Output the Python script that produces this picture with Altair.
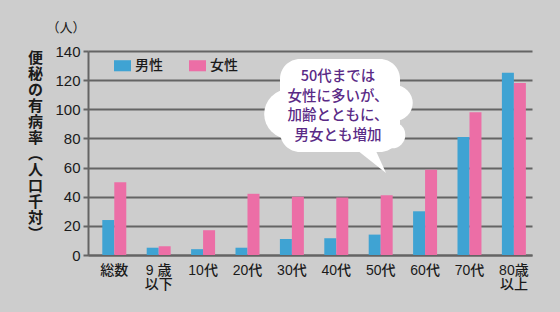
import altair as alt
import pandas as pd

categories = ["総数", "9 歳\n以下", "10代", "20代", "30代", "40代", "50代", "60代", "70代", "80歳\n以上"]
series = ["男性", "女性"]
male = [24, 5, 4, 5, 11, 11.5, 14, 30, 81, 125]
female = [50, 6, 17, 42, 40, 39.5, 41, 58.5, 98, 118]
y_ticks = [0, 20, 40, 60, 80, 100, 120, 140]
y_title = list("便秘の有病率") + ["︵", "人", "口", "千", "対", "︶"]
unit_label = "（人）"
callout = "50代までは\n女性に多いが、\n加齢とともに、\n男女とも増加"

rows = []
for c, m, f in zip(categories, male, female):
    rows.append({"cat": c, "series": "男性", "value": m})
    rows.append({"cat": c, "series": "女性", "value": f})
df = pd.DataFrame(rows)

FONT = "Liberation Sans, Noto Sans CJK JP"
BLUE = "#3fa3d3"
PINK = "#ec6ea6"
GRID = "#646464"

bars = alt.Chart(df).mark_bar().encode(
    x=alt.X("cat:N", sort=categories,
            scale=alt.Scale(paddingInner=0.46, paddingOuter=0.23, align=0.7),
            axis=alt.Axis(title=None, labelAngle=0, ticks=False, labelPadding=8,
                          labelExpr="split(datum.label, '\\n')",
                          labelFontSize=14, labelLineHeight=14, labelColor="#1a1a1a",
                          labelFont=FONT, labelFontWeight=500,
                          domainColor=GRID, domainWidth=2, grid=False)),
    xOffset=alt.XOffset("series:N", sort=series, scale=alt.Scale(domain=series)),
    y=alt.Y("value:Q", scale=alt.Scale(domain=[0, 140], nice=False),
            axis=alt.Axis(values=y_ticks, title=y_title, titleAngle=0,
                          titleFontSize=15, titleFontWeight="bold", titleLineHeight=16,
                          titleFont="Noto Sans CJK JP", titleColor="#1a1a1a",
                          titleX=-53, titleY=6, titleBaseline="middle", titleAlign="center",
                          labelFontSize=15, labelColor="#1a1a1a", labelFont=FONT,
                          labelPadding=3, tickSize=5, tickColor=GRID, tickWidth=2,
                          domainColor=GRID, domainWidth=2,
                          grid=True, gridColor=GRID, gridWidth=2)),
    color=alt.Color("series:N", sort=series,
                    scale=alt.Scale(domain=series, range=[BLUE, PINK]),
                    legend=alt.Legend(title=None, orient="none", legendX=26, legendY=6,
                                      direction="horizontal", padding=0,
                                      symbolType="M-1,-0.65L1,-0.65L1,0.65L-1,0.65Z",
                                      symbolSize=289, symbolStrokeWidth=0, symbolOpacity=1,
                                      labelFontSize=14, labelFont="Noto Sans CJK JP",
                                      labelFontWeight=500,
                                      labelColor="#1a1a1a", labelOffset=4, columnPadding=26)),
)

anchor = pd.DataFrame({"a": [0]})

bubble_rect = alt.Chart(anchor).mark_rect(fill="white", cornerRadius=20).encode(
    x=alt.value(192), x2=alt.value(312), y=alt.value(8), y2=alt.value(101))
bubble_circles = alt.Chart(pd.DataFrame({"cx": [201, 307, 304], "cy": [63, 52, 84],
                                         "s": [2463, 1257, 707]})).mark_circle(
    fill="white", opacity=1).encode(
    x=alt.X("cx:Q", scale=None), y=alt.Y("cy:Q", scale=None),
    size=alt.Size("s:Q", scale=None))
tail = alt.Chart(anchor).mark_point(
    shape="M-1,-0.95L0.28,-0.95L1,0.64Z", filled=True, fill="white", opacity=1,
    size=1296).encode(x=alt.value(280), y=alt.value(110.5))
bubble_text = alt.Chart(anchor).mark_text(
    text=callout, lineBreak="\n", lineHeight=19.7, fontSize=14.5,
    font="Noto Sans CJK JP", color="#5a2a86", align="center", baseline="middle",
    fontWeight=500).encode(x=alt.value(250), y=alt.value(26))
unit = alt.Chart(anchor).mark_text(
    text=unit_label, fontSize=13, font="Noto Sans CJK JP", color="#1a1a1a",
    align="center", baseline="middle").encode(x=alt.value(-22), y=alt.value(-23.5))

chart = alt.layer(bars, bubble_rect, bubble_circles, tail, bubble_text, unit).properties(
    width=444, height=204,
    autosize=alt.AutoSizeParams(type="none"),
    padding={"left": 88, "top": 51, "right": 28, "bottom": 57},
    background="#cdcdcd",
).configure_view(stroke=None)

chart.save("out.html", embed_options={"renderer": "svg", "actions": False})
